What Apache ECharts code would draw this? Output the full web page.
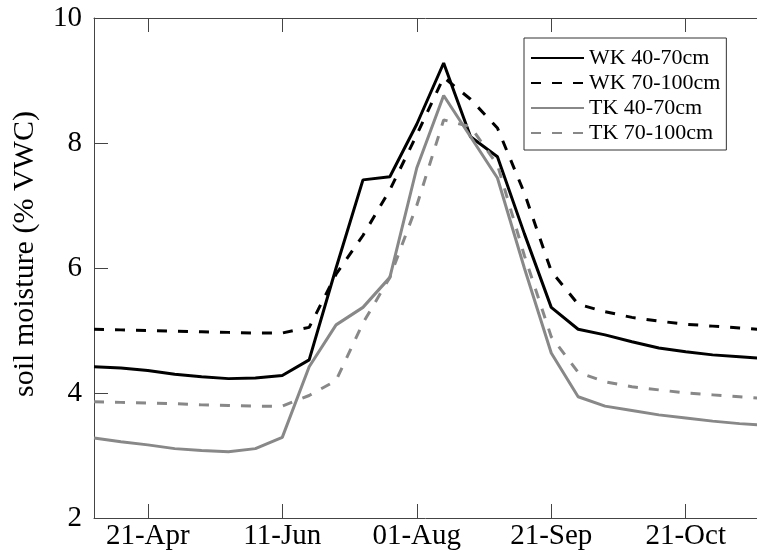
<!DOCTYPE html>
<html>
<head>
<meta charset="utf-8">
<script src="https://cdn.jsdelivr.net/npm/echarts@6/dist/echarts.min.js"></script>
<style>
  html, body { margin: 0; padding: 0; background: #fff; }
  #chart { width: 757px; height: 554px; }
</style>
</head>
<body>
<div id="chart"></div>
<script>
// dekadal sampling dates (one point every ~10 days)
const dekads = ['01-Apr', '11-Apr', '21-Apr', '01-May', '11-May', '21-May', '01-Jun', '11-Jun', '21-Jun',
  '01-Jul', '11-Jul', '21-Jul', '01-Aug', '11-Aug', '21-Aug', '01-Sep', '11-Sep', '21-Sep', '01-Oct',
  '11-Oct', '21-Oct', '01-Nov', '11-Nov', '21-Nov', '01-Dec', '11-Dec'];

const tickIdx = [2, 7, 12, 17, 22];
const tickText = ['21-Apr', '11-Jun', '01-Aug', '21-Sep', '21-Oct'];

const wk4070 = [4.42, 4.40, 4.36, 4.30, 4.26, 4.23, 4.24, 4.28, 4.53, 6.00, 7.41, 7.46, 8.30, 9.28, 8.10, 7.78, 6.55, 5.37, 5.02, 4.93, 4.82, 4.72, 4.66, 4.61, 4.58, 4.55];
const wk70100 = [5.02, 5.01, 5.00, 4.99, 4.98, 4.97, 4.96, 4.96, 5.05, 5.90, 6.52, 7.25, 8.13, 9.05, 8.70, 8.24, 7.20, 5.95, 5.42, 5.30, 5.21, 5.15, 5.10, 5.07, 5.04, 5.01];
const tk4070 = [3.28, 3.22, 3.17, 3.11, 3.08, 3.06, 3.11, 3.29, 4.42, 5.09, 5.37, 5.85, 7.60, 8.76, 8.10, 7.44, 6.00, 4.64, 3.94, 3.79, 3.72, 3.65, 3.60, 3.55, 3.51, 3.48];
const tk70100 = [3.86, 3.85, 3.84, 3.83, 3.81, 3.80, 3.79, 3.79, 3.96, 4.20, 5.12, 5.85, 7.00, 8.37, 8.26, 7.65, 6.20, 4.90, 4.33, 4.18, 4.10, 4.05, 4.00, 3.97, 3.94, 3.91];

const FONT = "'Liberation Serif', 'Times New Roman', serif";
const AXIS_COLOR = '#444';

const toPairs = arr => arr.map((v, i) => [i, v]);

const chart = echarts.init(document.getElementById('chart'));

const mkSeries = (name, data, color, dashed) => ({
  name: name,
  type: 'line',
  data: toPairs(data),
  symbol: 'none',
  clip: true,
  lineStyle: { color: color, width: 3, type: dashed ? [10, 11] : 'solid', cap: 'butt' },
  itemStyle: { color: color }
});

chart.setOption({
  animation: false,
  backgroundColor: '#fff',
  grid: { left: 94, top: 18, right: 0, bottom: 36 },
  legend: {
    orient: 'vertical',
    left: 524,
    top: 38,
    padding: [9, 6, 6, 6],
    itemWidth: 53,
    itemHeight: 14,
    itemGap: 3,
    itemStyle: { opacity: 0 },
    backgroundColor: '#fff',
    borderColor: '#333',
    borderWidth: 1,
    textStyle: { fontFamily: FONT, fontSize: 22, color: '#000', lineHeight: 22 },
    data: ['WK 40-70cm', 'WK 70-100cm', 'TK 40-70cm', 'TK 70-100cm']
  },
  xAxis: [{
    type: 'value',
    min: 0,
    max: 24.65,
    splitLine: { show: false },
    axisLine: { lineStyle: { color: AXIS_COLOR, width: 1 } },
    axisTick: { inside: true, length: 14, customValues: tickIdx, lineStyle: { color: AXIS_COLOR } },
    axisLabel: {
      customValues: tickIdx,
      formatter: v => tickText[tickIdx.indexOf(v)] || '',
      fontFamily: FONT, fontSize: 29, color: '#000', margin: 4
    }
  }, {
    type: 'value',
    position: 'top',
    min: 0,
    max: 24.65,
    splitLine: { show: false },
    axisLine: { show: true, lineStyle: { color: AXIS_COLOR, width: 1 } },
    axisTick: { inside: true, length: 14, customValues: tickIdx, lineStyle: { color: AXIS_COLOR } },
    axisLabel: { show: false }
  }],
  yAxis: {
    type: 'value',
    min: 2,
    max: 10,
    interval: 2,
    name: 'soil moisture (% VWC)',
    nameLocation: 'middle',
    nameGap: 54,
    nameTextStyle: { fontFamily: FONT, fontSize: 30, color: '#000', padding: [0, 0, 0, 28] },
    splitLine: { show: false },
    axisLine: { show: true, lineStyle: { color: AXIS_COLOR, width: 1 } },
    axisTick: { inside: true, length: 14, lineStyle: { color: AXIS_COLOR } },
    axisLabel: { fontFamily: FONT, fontSize: 29, color: '#000', margin: 12 }
  },
  series: [
    mkSeries('WK 40-70cm', wk4070, '#000', false),
    mkSeries('WK 70-100cm', wk70100, '#000', true),
    mkSeries('TK 40-70cm', tk4070, '#888', false),
    mkSeries('TK 70-100cm', tk70100, '#888', true)
  ]
});
</script>
</body>
</html>
